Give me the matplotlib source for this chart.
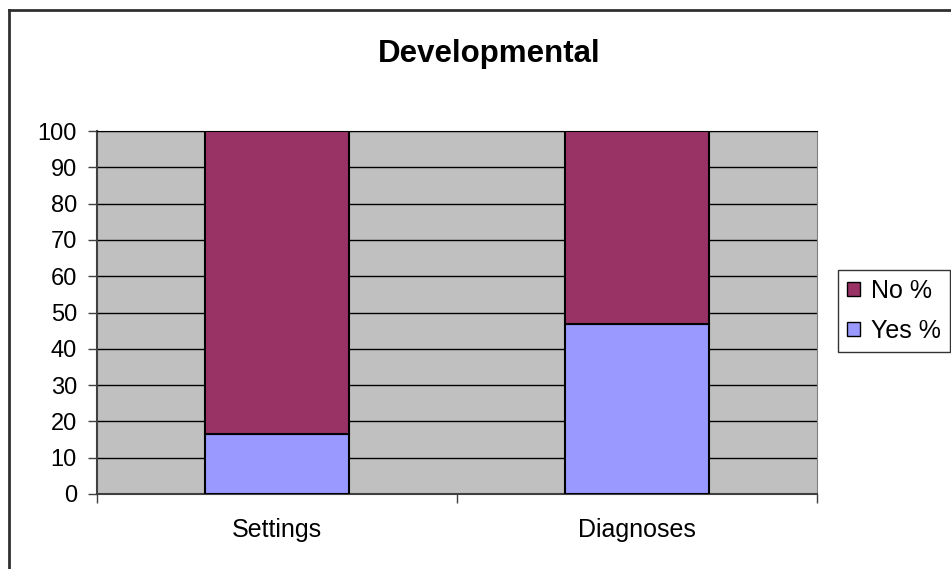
import matplotlib
matplotlib.use("Agg")
import matplotlib.pyplot as plt
from matplotlib.lines import Line2D

# values
categories = ["Settings", "Diagnoses"]
yes_pct = [16.6, 46.9]
no_pct = [100 - v for v in yes_pct]
y_ticks = list(range(0, 101, 10))

plt.rcParams['font.family'] = ['Liberation Sans', 'DejaVu Sans']

W, H = 951, 569
fig = plt.figure(figsize=(W / 100, H / 100), dpi=100)
ax = fig.add_axes([97 / W, 1 - 494 / H, (817 - 97) / W, (494 - 131) / H])
ax.set_facecolor("#C0C0C0")

x = list(range(len(categories)))
b_yes = ax.bar(x, yes_pct, width=0.4, color="#9999FF", edgecolor="black",
               linewidth=1.5, label="Yes %", zorder=3)
b_no = ax.bar(x, no_pct, width=0.4, bottom=yes_pct, color="#993366",
              edgecolor="black", linewidth=1.5, label="No %", zorder=3)

ax.set_xlim(-0.5, len(categories) - 0.5)
ax.set_ylim(0, 100)
ax.set_yticks(y_ticks)
ax.yaxis.grid(True, color="black", linewidth=1, zorder=1)
ax.set_axisbelow(True)

# category boundary ticks on x, labels in the middle
ax.set_xticks([i - 0.5 for i in range(len(categories) + 1)])
ax.set_xticklabels([])
ax.set_xticks(x, minor=True)
ax.set_xticklabels(categories, minor=True)
ax.tick_params(axis="x", which="minor", length=0, pad=17, labelsize=18)
ax.tick_params(axis="x", which="major", length=6.5, width=1, color="#404040")
ax.tick_params(axis="y", length=6.5, width=1, color="#404040", labelsize=17, pad=8)

for s in ["left", "bottom"]:
    ax.spines[s].set_color("#404040")
    ax.spines[s].set_linewidth(1.5)
ax.spines["top"].set_color("black")
ax.spines["right"].set_color("#808080")

fig.text(489 / W, 1 - 54 / H, "Developmental", ha="center", va="center",
         fontsize=22.5, fontweight="bold")

# outer chart border (left and top visible)
fig.add_artist(Line2D([9 / W, 9 / W], [0, 1 - 9.5 / H], color="#303030", linewidth=2))
fig.add_artist(Line2D([9 / W, 1], [1 - 9.5 / H, 1 - 9.5 / H], color="#303030", linewidth=2))

leg = fig.legend([b_no, b_yes], ["No %", "Yes %"], loc="upper left",
                 bbox_to_anchor=(838 / W, 1 - 270 / H), fontsize=18,
                 frameon=True, fancybox=False, handlelength=0.52, handleheight=0.52,
                 handletextpad=0.45, borderpad=0.35, labelspacing=0.65,
                 borderaxespad=0)
leg.get_frame().set_edgecolor("black")
leg.get_frame().set_linewidth(1)
for h in leg.legend_handles:
    h.set_linewidth(1)

fig.savefig("out.png", dpi=100)
